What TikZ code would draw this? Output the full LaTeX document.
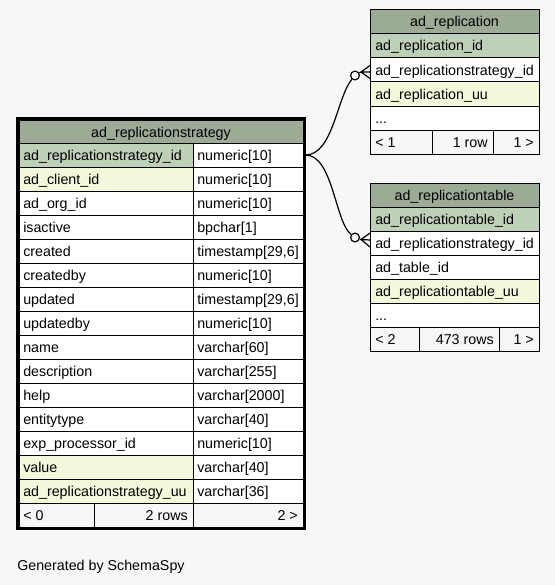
\documentclass[tikz,border=0pt]{standalone}
\usepackage{fontspec}
\setmainfont{Liberation Sans}
\definecolor{bgc}{HTML}{F7F7F7}
\definecolor{headc}{HTML}{9BAB96}
\definecolor{pkc}{HTML}{BED1B8}
\definecolor{idxc}{HTML}{F4F7DA}
\newcommand\mydotstxt{...}
\begin{document}
\begin{tikzpicture}[x=0.75pt,y=-0.75pt,
  cellbox/.style={draw=black, line width=0.75pt},
  txt/.style={font=\fontsize{10.7}{13}\selectfont, inner sep=0pt, anchor=base west},
  txtr/.style={font=\fontsize{10.7}{13}\selectfont, inner sep=0pt, anchor=base east},
  txtc/.style={font=\fontsize{10.7}{13}\selectfont, inner sep=0pt, anchor=base},
  conn/.style={draw=black, line width=0.9pt},
  odot/.style={circle, draw=black, fill=white, line width=0.9pt, inner sep=0pt, minimum size=6.6pt}
]
\useasboundingbox[fill=bgc] (0,0) rectangle (555,585);

% ---------------- main table ad_replicationstrategy
\filldraw[cellbox, fill=headc] (19,120) rectangle (303,143);
\node[txtc] (mtitle) at (161,137) {ad\_replicationstrategy};
\foreach \i/\n/\t/\c in {
  1/ad\_replicationstrategy\_id/numeric[10]/pkc,
  2/ad\_client\_id/numeric[10]/idxc,
  3/ad\_org\_id/numeric[10]/white,
  4/isactive/bpchar[1]/white,
  5/created/{timestamp[29,6]}/white,
  6/createdby/numeric[10]/white,
  7/updated/{timestamp[29,6]}/white,
  8/updatedby/numeric[10]/white,
  9/name/varchar[60]/white,
  10/description/varchar[255]/white,
  11/help/varchar[2000]/white,
  12/entitytype/varchar[40]/white,
  13/exp\_processor\_id/numeric[10]/white,
  14/value/varchar[40]/idxc,
  15/ad\_replicationstrategy\_uu/varchar[36]/idxc}{
  \pgfmathsetmacro\ytop{143+24*(\i-1)}
  \pgfmathsetmacro\ybot{143+24*\i}
  \pgfmathsetmacro\ybase{\ytop+17}
  \filldraw[cellbox, fill=\c] (19,\ytop) rectangle (193,\ybot);
  \filldraw[cellbox, fill=white] (193,\ytop) rectangle (303,\ybot);
  \node[txt] (mn\i) at (23,\ybase) {\n};
  \node[txt] (mt\i) at (197,\ybase) {\t};
}
\filldraw[cellbox, fill=bgc] (19,503) rectangle (94,527);
\filldraw[cellbox, fill=bgc] (94,503) rectangle (193,527);
\filldraw[cellbox, fill=bgc] (193,503) rectangle (303,527);
\node[txt] (mfa) at (23,520) {< 0};
\node[txtr] (mfb) at (188,520) {2 rows};
\node[txtr] (mfc) at (298,520) {2 >};
\draw[black, line width=2.2pt] (17.5,118.5) rectangle (304.5,528.5);

% ---------------- ad_replication
\filldraw[cellbox, fill=headc] (370,10) rectangle (539,34);
\node[txtc] (rtitle) at (454.5,27) {ad\_replication};
\foreach \i/\n/\c in {
  1/ad\_replication\_id/pkc,
  2/ad\_replicationstrategy\_id/white,
  3/ad\_replication\_uu/idxc,
  4/\mydotstxt/white}{
  \pgfmathsetmacro\ytop{34+24*(\i-1)}
  \pgfmathsetmacro\ybot{34+24*\i}
  \pgfmathsetmacro\ybase{\ytop+17}
  \filldraw[cellbox, fill=\c] (370,\ytop) rectangle (539,\ybot);
  \node[txt] (rn\i) at (375,\ybase) {\n};
}
\filldraw[cellbox, fill=bgc] (370,130) rectangle (432,154);
\filldraw[cellbox, fill=bgc] (432,130) rectangle (493,154);
\filldraw[cellbox, fill=bgc] (493,130) rectangle (539,154);
\node[txt] (rfa) at (375,147) {< 1};
\node[txtr] (rfb) at (488,147) {1 row};
\node[txtr] (rfc) at (534,147) {1 >};

% ---------------- ad_replicationtable
\filldraw[cellbox, fill=headc] (370,183) rectangle (539,207);
\node[txtc] (ttitle) at (454.5,200) {ad\_replicationtable};
\foreach \i/\n/\c in {
  1/ad\_replicationtable\_id/pkc,
  2/ad\_replicationstrategy\_id/white,
  3/ad\_table\_id/white,
  4/ad\_replicationtable\_uu/idxc,
  5/\mydotstxt/white}{
  \pgfmathsetmacro\ytop{207+24*(\i-1)}
  \pgfmathsetmacro\ybot{207+24*\i}
  \pgfmathsetmacro\ybase{\ytop+17}
  \filldraw[cellbox, fill=\c] (370,\ytop) rectangle (539,\ybot);
  \node[txt] (tn\i) at (375,\ybase) {\n};
}
\filldraw[cellbox, fill=bgc] (370,327) rectangle (419,351);
\filldraw[cellbox, fill=bgc] (419,327) rectangle (499,351);
\filldraw[cellbox, fill=bgc] (499,327) rectangle (539,351);
\node[txt] (tfa) at (375,344) {< 2};
\node[txtr] (tfb) at (494,344) {473 rows};
\node[txtr] (tfc) at (534,344) {1 >};

% ---------------- connectors
\coordinate (es) at (305.5,155);
\node[odot] (c1) at (355,75.5) {};
\node[odot] (c2) at (355,237.5) {};
\coordinate (a1) at (361,72);
\coordinate (a2) at (361,239.5);
\draw[conn] (es) .. controls (333,155) and (337,97) .. (c1);
\draw[conn] (es) .. controls (333,155) and (335,222) .. (c2);
\draw[conn] (c1) -- (a1);
\draw[conn] (c2) -- (a2);
\draw[conn] (a1) -- (370,65.5) (a1) -- (370,72) (a1) -- (370,78.5);
\draw[conn] (a2) -- (370,233) (a2) -- (370,240) (a2) -- (370,247);

\node[txt] (gen) at (17,570) {Generated by SchemaSpy};
\end{tikzpicture}
\end{document}
